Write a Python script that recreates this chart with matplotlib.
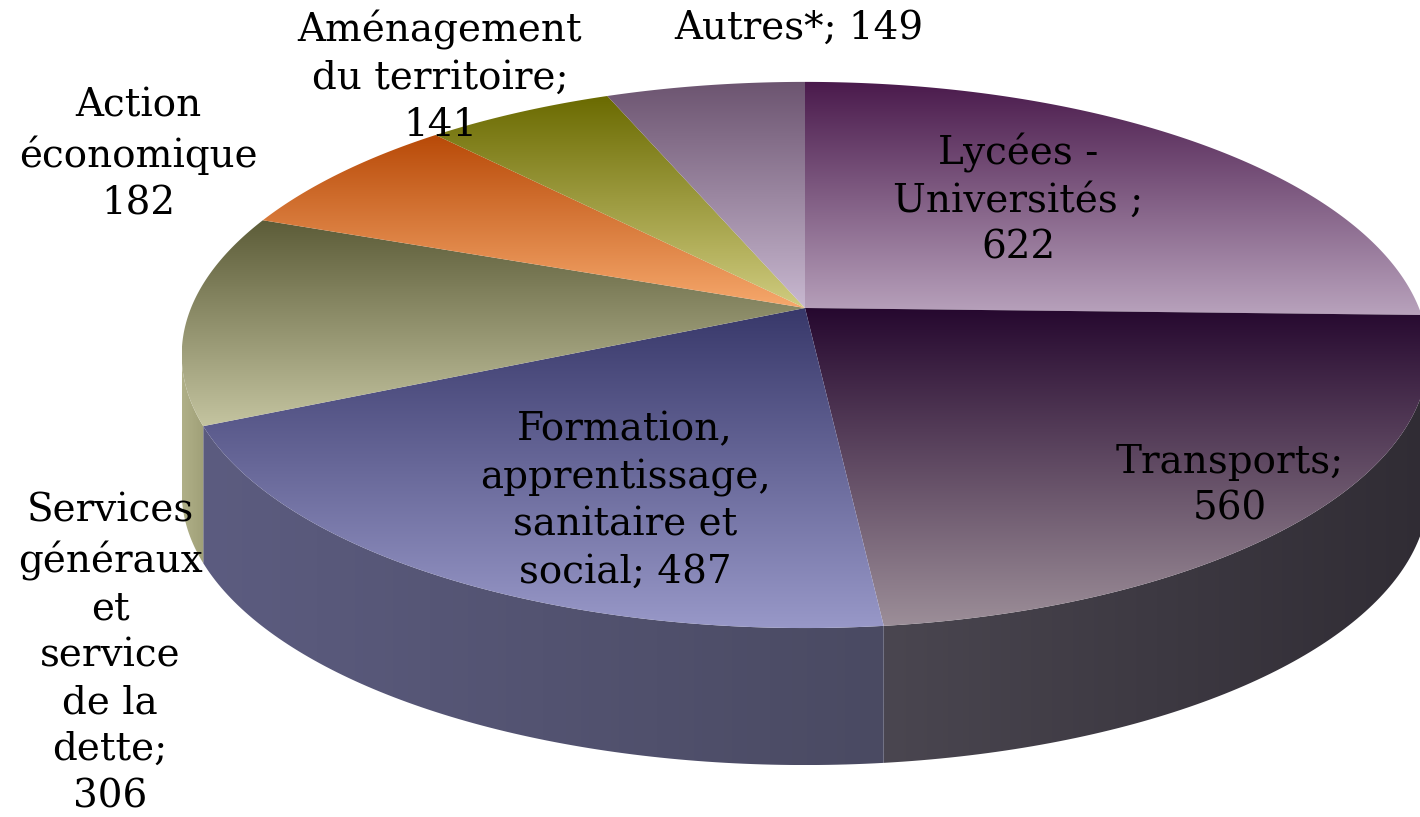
import numpy as np
import matplotlib.pyplot as plt
from matplotlib.patches import Polygon
from matplotlib.colors import LinearSegmentedColormap

labels = ['Lycées -\nUniversités ;\n622', 'Transports;\n560',
          'Formation,\napprentissage,\nsanitaire et\nsocial; 487',
          'Services\ngénéraux\net\nservice\nde la\ndette;\n306',
          'Action\néconomique\n182', 'Aménagement\ndu territoire;\n141',
          'Autres*; 149']
values = [622, 560, 487, 306, 182, 141, 149]
top_colors = [('#4a1a4c', '#b8a2bc'), ('#26082f', '#9c8e98'),
              ('#38386a', '#9898c8'), ('#5c5c38', '#c4c4a0'),
              ('#b84a08', '#f6a86c'), ('#6a6a00', '#d0cc80'),
              ('#6c5470', '#c8b8d0')]
side_colors = [('#4a3a50', '#302a34'), ('#4a4650', '#302c34'),
               ('#5c5c80', '#4a4a62'), ('#b0b088', '#a0a078'),
               ('#c06a30', '#a05020'), ('#909040', '#808030'),
               ('#806a80', '#705a70')]
label_pos = [(1018, 200), (1230, 486), (625, 501), (110, 654),
             (138, 155), (440, 77), (799, 28)]

# perspective of the pie (pixel space)
CX, CY, A, B, C = 805, 308, 614, 265, 0.172
DEPTH = 137


def proj(phi, r=1.0):
    u = r * np.cos(phi)
    v = r * np.sin(phi)
    den = 1 + C * v
    return CX + A * u / den, CY - B * v / den


def gradient_fill(ax, xy, c0, c1, vertical=True):
    poly = Polygon(xy, closed=True, facecolor='none', edgecolor='none')
    ax.add_patch(poly)
    x0, y0 = xy.min(0)
    x1, y1 = xy.max(0)
    g = np.linspace(0, 1, 256)
    img = g[:, None] if vertical else g[None, :]
    cmap = LinearSegmentedColormap.from_list('g', [c0, c1])
    im = ax.imshow(img, cmap=cmap, extent=(x0, x1, y1, y0), aspect='auto',
                   origin='upper', interpolation='bilinear')
    im.set_clip_path(poly)


fig = plt.figure(figsize=(14.2, 8.17), dpi=100)
ax = fig.add_axes([0, 0, 1, 1])

total = sum(values)
starts = np.pi / 2 - 2 * np.pi * np.concatenate([[0], np.cumsum(values)[:-1]]) / total
ends = starts - 2 * np.pi * np.array(values) / total

# visible outer side (front half between silhouette points)
vis_hi = -np.arcsin(C)
vis_lo = -np.pi + np.arcsin(C)
for s, e, (c0, c1) in zip(starts, ends, side_colors):
    for shift in (0, -2 * np.pi):
        a_hi = min(s + shift, vis_hi)
        a_lo = max(e + shift, vis_lo)
        if a_hi <= a_lo:
            continue
        phi = np.linspace(a_lo, a_hi, 100)
        x, y = proj(phi)
        xy = np.vstack([np.column_stack([x, y]),
                        np.column_stack([x, y + DEPTH])[::-1]])
        gradient_fill(ax, xy, c0, c1, vertical=False)

# top faces
for s, e, (c0, c1) in zip(starts, ends, top_colors):
    phi = np.linspace(s, e, 200)
    x, y = proj(phi)
    xy = np.vstack([[CX, CY], np.column_stack([x, y])])
    gradient_fill(ax, xy, c0, c1)

for lab, (x, y) in zip(labels, label_pos):
    ax.text(x, y, lab, ha='center', va='center', fontsize=28,
            family='DejaVu Serif', linespacing=1.34, zorder=10)

ax.set_xlim(0, 1420)
ax.set_ylim(817, 0)
ax.axis('off')
fig.savefig('out.png', dpi=100)
